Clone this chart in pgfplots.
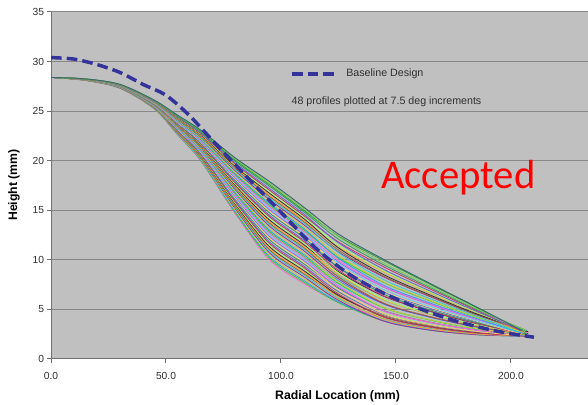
\documentclass[border=0pt]{standalone}
\usepackage{pgfplots}
\pgfplotsset{compat=1.18}
\usepackage{fontspec}
\setmainfont{Liberation Sans}
\newfontfamily\accfont{Carlito}

\definecolor{bg}{HTML}{C0C0C0}
\definecolor{axgray}{HTML}{707070}
\definecolor{gridgray}{HTML}{888888}
\definecolor{labgray}{HTML}{303030}
\definecolor{basec}{HTML}{33339A}
\definecolor{p1}{HTML}{FF66CC}
\definecolor{p2}{HTML}{33CC33}
\definecolor{p3}{HTML}{3399FF}
\definecolor{p4}{HTML}{CCCC33}
\definecolor{p5}{HTML}{993399}
\definecolor{p6}{HTML}{33CCCC}
\definecolor{p7}{HTML}{996633}
\definecolor{p8}{HTML}{FF9933}
\definecolor{p9}{HTML}{333333}
\definecolor{p10}{HTML}{99FF66}
\definecolor{p11}{HTML}{CC3366}
\definecolor{p12}{HTML}{6666CC}
\definecolor{p13}{HTML}{339966}
\definecolor{p14}{HTML}{FFCC66}
\definecolor{p15}{HTML}{9966FF}
\definecolor{p16}{HTML}{66CCFF}
\definecolor{slate}{HTML}{3D6670}
\tikzset{pr/.style={smooth, draw=#1, line width=0.6pt}}

\begin{document}
\begin{tikzpicture}
\begin{axis}[name=ax, scale only axis, width=402.75pt, height=260.25pt,
  xmin=0, xmax=233.5, ymin=0, ymax=35,
  axis background/.style={fill=bg},
  axis x line*=bottom, axis y line*=left,
  axis line style={draw=axgray, line width=0.75pt, -},
  xtick={0,50,100,150,200}, xticklabels={0.0,50.0,100.0,150.0,200.0},
  ytick={0,5,10,15,20,25,30,35}, yticklabels={0,5,10,15,20,25,30,35},
  tick align=outside, major tick length=3pt,
  tick style={draw=axgray, line width=0.75pt},
  ymajorgrids, grid style={draw=gridgray, line width=0.75pt},
  ticklabel style={font=\fontsize{7.7}{9}\selectfont, text=labgray},
  yticklabel style={anchor=east, inner sep=0pt, xshift=-2pt},
  xticklabel style={anchor=north, inner sep=0pt, yshift=-6.5pt},
  xlabel={Radial Location (mm)}, ylabel={Height (mm)},
  label style={font=\fontsize{9.2}{11}\selectfont\bfseries},
  xlabel style={at={(rel axis cs:0.5336,0)}, anchor=center, yshift=-28.3pt},
  ylabel style={at={(rel axis cs:0,0.5014)}, anchor=center, yshift=27.75pt},
  legend style={at={(axis cs:104.0,28.75)}, anchor=west, draw=none, fill=none,
    inner sep=0pt, outer sep=0pt, font=\fontsize{8}{10}\selectfont, text=labgray,
    nodes={inner sep=0pt},
    /tikz/every odd column/.append style={column sep=7.5pt}},
  legend image code/.code={\draw[#1] (0pt,0pt) -- (32pt,0pt);},
]
\addplot[forget plot, pr=p1] coordinates {(0,28.4)(15,28.1)(30,27.3)(45,25.2)(55,22.6)(65,20.0)(80,14.7)(95,10.0)(110,7.6)(125,5.74)(145,4.05)(165,3.09)(185,2.56)(207.5,2.32)};
\addplot[forget plot, pr=p2] coordinates {(0,28.4)(15,28.1)(30,27.31)(45,25.22)(55,22.64)(65,20.06)(80,14.81)(95,10.16)(110,7.75)(125,5.67)(145,3.8)(165,2.9)(185,2.45)(206,2.3)};
\addplot[forget plot, pr=p3] coordinates {(0,28.4)(15,28.11)(30,27.32)(45,25.24)(55,22.68)(65,20.12)(80,14.92)(95,10.32)(110,7.91)(125,5.77)(145,3.85)(165,2.94)(185,2.47)(204.5,2.3)};
\addplot[forget plot, pr=p4] coordinates {(0,28.4)(15,28.11)(30,27.32)(45,25.25)(55,22.72)(65,20.19)(80,15.04)(95,10.47)(110,8.06)(125,6.01)(145,4.14)(165,3.16)(185,2.6)(205.5,2.33)};
\addplot[forget plot, pr=p5] coordinates {(0,28.4)(15,28.11)(30,27.34)(45,25.28)(55,22.78)(65,20.28)(80,15.2)(95,10.71)(110,8.29)(125,5.92)(145,3.8)(165,2.9)(185,2.45)(207,2.3)};
\addplot[forget plot, pr=p6] coordinates {(0,28.4)(15,28.12)(30,27.34)(45,25.3)(55,22.82)(65,20.34)(80,15.32)(95,10.87)(110,8.45)(125,6.11)(145,4.02)(165,3.07)(185,2.55)(203.5,2.32)};
\addplot[forget plot, pr=p7] coordinates {(0,28.4)(15,28.12)(30,27.35)(45,25.32)(55,22.86)(65,20.4)(80,15.43)(95,11.03)(110,8.6)(125,6.37)(145,4.34)(165,3.31)(185,2.69)(206.5,2.35)};
\addplot[forget plot, pr=p8] coordinates {(0,28.4)(15,28.12)(30,27.36)(45,25.34)(55,22.9)(65,20.47)(80,15.54)(95,11.19)(110,8.76)(125,6.23)(145,3.97)(165,3.03)(185,2.53)(205,2.32)};
\addplot[forget plot, pr=p9] coordinates {(0,28.4)(15,28.13)(30,27.37)(45,25.35)(55,22.94)(65,20.53)(80,15.65)(95,11.34)(110,8.91)(125,6.44)(145,4.23)(165,3.23)(185,2.65)(207.5,2.34)};
\addplot[forget plot, pr=p10] coordinates {(0,28.4)(15,28.13)(30,27.38)(45,25.37)(55,22.98)(65,20.59)(80,15.76)(95,11.5)(110,9.06)(125,6.7)(145,4.56)(165,3.48)(185,2.79)(206,2.37)};
\addplot[forget plot, pr=p11] coordinates {(0,28.4)(15,28.13)(30,27.38)(45,25.39)(55,23.02)(65,20.65)(80,15.88)(95,11.66)(110,9.22)(125,6.57)(145,4.21)(165,3.21)(185,2.63)(204.5,2.34)};
\addplot[forget plot, pr=p12] coordinates {(0,28.4)(15,28.13)(30,27.39)(45,25.41)(55,23.06)(65,20.71)(80,15.99)(95,11.82)(110,9.37)(125,6.79)(145,4.48)(165,3.42)(185,2.76)(205.5,2.37)};
\addplot[forget plot, pr=p13] coordinates {(0,28.4)(15,28.14)(30,27.4)(45,25.43)(55,23.12)(65,20.81)(80,16.16)(95,12.05)(110,9.6)(125,7.12)(145,4.87)(165,3.71)(185,2.93)(207,2.4)};
\addplot[forget plot, pr=p14] coordinates {(0,28.4)(15,28.14)(30,27.41)(45,25.45)(55,23.16)(65,20.87)(80,16.27)(95,12.21)(110,9.76)(125,7.0)(145,4.53)(165,3.45)(185,2.78)(203.5,2.37)};
\addplot[forget plot, pr=p15] coordinates {(0,28.4)(15,28.15)(30,27.42)(45,25.47)(55,23.2)(65,20.93)(80,16.38)(95,12.37)(110,9.91)(125,7.22)(145,4.82)(165,3.67)(185,2.91)(206.5,2.4)};
\addplot[forget plot, pr=p16] coordinates {(0,28.4)(15,28.15)(30,27.43)(45,25.49)(55,23.24)(65,20.99)(80,16.49)(95,12.53)(110,10.06)(125,7.49)(145,5.17)(165,3.94)(185,3.07)(205,2.43)};
\addplot[forget plot, pr=p1] coordinates {(0,28.4)(15,28.15)(30,27.44)(45,25.51)(55,23.28)(65,21.05)(80,16.6)(95,12.69)(110,10.22)(125,7.38)(145,4.84)(165,3.69)(185,2.92)(207.5,2.4)};
\addplot[forget plot, pr=p2] coordinates {(0,28.4)(15,28.15)(30,27.44)(45,25.52)(55,23.32)(65,21.12)(80,16.72)(95,12.84)(110,10.37)(125,7.62)(145,5.14)(165,3.92)(185,3.05)(206,2.43)};
\addplot[forget plot, pr=p3] coordinates {(0,28.4)(15,28.16)(30,27.45)(45,25.54)(55,23.36)(65,21.18)(80,16.83)(95,13.0)(110,10.53)(125,7.89)(145,5.5)(165,4.19)(185,3.22)(204.5,2.46)};
\addplot[forget plot, pr=p4] coordinates {(0,28.4)(15,28.16)(30,27.46)(45,25.56)(55,23.4)(65,21.24)(80,16.94)(95,13.16)(110,10.68)(125,7.78)(145,5.18)(165,3.95)(185,3.07)(205.5,2.43)};
\addplot[forget plot, pr=p5] coordinates {(0,28.4)(15,28.16)(30,27.47)(45,25.59)(55,23.46)(65,21.33)(80,17.11)(95,13.4)(110,10.91)(125,8.09)(145,5.55)(165,4.23)(185,3.24)(207,2.47)};
\addplot[forget plot, pr=p6] coordinates {(0,28.4)(15,28.17)(30,27.48)(45,25.61)(55,23.5)(65,21.4)(80,17.22)(95,13.56)(110,11.07)(125,8.37)(145,5.92)(165,4.51)(185,3.41)(203.5,2.51)};
\addplot[forget plot, pr=p7] coordinates {(0,28.4)(15,28.17)(30,27.49)(45,25.62)(55,23.54)(65,21.46)(80,17.33)(95,13.71)(110,11.22)(125,8.27)(145,5.61)(165,4.27)(185,3.27)(206.5,2.48)};
\addplot[forget plot, pr=p8] coordinates {(0,28.4)(15,28.17)(30,27.5)(45,25.64)(55,23.58)(65,21.52)(80,17.44)(95,13.87)(110,11.37)(125,8.52)(145,5.93)(165,4.51)(185,3.41)(205,2.51)};
\addplot[forget plot, pr=p9] coordinates {(0,28.4)(15,28.18)(30,27.5)(45,25.66)(55,23.62)(65,21.58)(80,17.56)(95,14.03)(110,11.53)(125,8.8)(145,6.3)(165,4.8)(185,3.58)(207.5,2.54)};
\addplot[forget plot, pr=p10] coordinates {(0,28.4)(15,28.18)(30,27.51)(45,25.68)(55,23.66)(65,21.64)(80,17.67)(95,14.19)(110,11.68)(125,8.7)(145,6.01)(165,4.57)(185,3.45)(206,2.51)};
\addplot[forget plot, pr=p11] coordinates {(0,28.4)(15,28.18)(30,27.52)(45,25.7)(55,23.7)(65,21.71)(80,17.78)(95,14.35)(110,11.84)(125,8.95)(145,6.33)(165,4.82)(185,3.59)(204.5,2.54)};
\addplot[forget plot, pr=p12] coordinates {(0,28.4)(15,28.19)(30,27.53)(45,25.71)(55,23.74)(65,21.77)(80,17.89)(95,14.5)(110,11.99)(125,9.24)(145,6.71)(165,5.11)(185,3.77)(205.5,2.58)};
\addplot[forget plot, pr=p13] coordinates {(0,28.4)(15,28.19)(30,27.54)(45,25.74)(55,23.8)(65,21.86)(80,18.06)(95,14.74)(110,12.22)(125,9.23)(145,6.5)(165,4.94)(185,3.67)(207,2.56)};
\addplot[forget plot, pr=p14] coordinates {(0,28.4)(15,28.19)(30,27.55)(45,25.76)(55,23.84)(65,21.92)(80,18.17)(95,14.9)(110,12.37)(125,9.48)(145,6.83)(165,5.19)(185,3.82)(203.5,2.59)};
\addplot[forget plot, pr=p15] coordinates {(0,28.4)(15,28.2)(30,27.56)(45,25.78)(55,23.88)(65,21.98)(80,18.28)(95,15.06)(110,12.53)(125,9.77)(145,7.22)(165,5.49)(185,4.0)(206.5,2.63)};
\addplot[forget plot, pr=p16] coordinates {(0,28.4)(15,28.2)(30,27.56)(45,25.79)(55,23.92)(65,22.05)(80,18.4)(95,15.21)(110,12.68)(125,9.68)(145,6.94)(165,5.28)(185,3.87)(205,2.6)};
\addplot[forget plot, pr=p1] coordinates {(0,28.4)(15,28.2)(30,27.57)(45,25.81)(55,23.96)(65,22.11)(80,18.51)(95,15.37)(110,12.84)(125,9.94)(145,7.28)(165,5.54)(185,4.02)(207.5,2.64)};
\addplot[forget plot, pr=p2] coordinates {(0,28.4)(15,28.21)(30,27.58)(45,25.83)(55,24.0)(65,22.17)(80,18.62)(95,15.53)(110,12.99)(125,10.24)(145,7.68)(165,5.84)(185,4.2)(206,2.68)};
\addplot[forget plot, pr=p3] coordinates {(0,28.4)(15,28.21)(30,27.59)(45,25.85)(55,24.04)(65,22.23)(80,18.73)(95,15.69)(110,13.14)(125,10.15)(145,7.4)(165,5.63)(185,4.08)(204.5,2.65)};
\addplot[forget plot, pr=p4] coordinates {(0,28.4)(15,28.21)(30,27.6)(45,25.87)(55,24.08)(65,22.29)(80,18.84)(95,15.85)(110,13.3)(125,10.42)(145,7.75)(165,5.89)(185,4.23)(205.5,2.68)};
\addplot[forget plot, pr=p5] coordinates {(0,28.4)(15,28.22)(30,27.61)(45,25.89)(55,24.14)(65,22.39)(80,19.01)(95,16.08)(110,13.53)(125,10.8)(145,8.24)(165,6.27)(185,4.45)(207,2.73)};
\addplot[forget plot, pr=p6] coordinates {(0,28.4)(15,28.22)(30,27.62)(45,25.91)(55,24.18)(65,22.45)(80,19.12)(95,16.24)(110,13.68)(125,10.72)(145,7.97)(165,6.06)(185,4.33)(203.5,2.7)};
\addplot[forget plot, pr=p7] coordinates {(0,28.4)(15,28.22)(30,27.62)(45,25.93)(55,24.22)(65,22.51)(80,19.24)(95,16.4)(110,13.84)(125,10.99)(145,8.32)(165,6.33)(185,4.49)(206.5,2.74)};
\addplot[forget plot, pr=p8] coordinates {(0,28.4)(15,28.22)(30,27.63)(45,25.95)(55,24.26)(65,22.57)(80,19.35)(95,16.56)(110,13.99)(125,11.29)(145,8.74)(165,6.64)(185,4.68)(205,2.78)};
\addplot[forget plot, pr=p9] coordinates {(0,28.4)(15,28.23)(30,27.64)(45,25.97)(55,24.3)(65,22.64)(80,19.46)(95,16.72)(110,14.15)(125,11.21)(145,8.47)(165,6.44)(185,4.56)(207.5,2.75)};
\addplot[forget plot, pr=p10] coordinates {(0,28.4)(15,28.23)(30,27.65)(45,25.98)(55,24.34)(65,22.7)(80,19.57)(95,16.87)(110,14.3)(125,11.48)(145,8.83)(165,6.71)(185,4.72)(206,2.79)};
\addplot[forget plot, pr=p11] coordinates {(0,28.4)(15,28.23)(30,27.66)(45,26.0)(55,24.38)(65,22.76)(80,19.68)(95,17.03)(110,14.45)(125,11.8)(145,9.26)(165,7.04)(185,4.91)(204.5,2.83)};
\addplot[forget plot, pr=p12] coordinates {(0,28.4)(15,28.24)(30,27.66)(45,26.02)(55,24.42)(65,22.82)(80,19.8)(95,17.19)(110,14.61)(125,11.72)(145,9.0)(165,6.84)(185,4.8)(205.5,2.8)};
\addplot[forget plot, pr=p13] coordinates {(0,28.4)(15,28.24)(30,27.68)(45,26.05)(55,24.48)(65,22.91)(80,19.96)(95,17.43)(110,14.84)(125,12.08)(145,9.45)(165,7.18)(185,5.0)(207,2.85)};
\addplot[forget plot, pr=p2!80!black] coordinates {(0,28.4)(15,28.24)(30,27.68)(45,26.06)(55,24.52)(65,22.98)(80,20.08)(95,17.58)(110,14.99)(125,12.39)(145,9.88)(165,7.51)(185,5.2)(205,2.89)};
\addplot[forget plot, pr=p10!80!black] coordinates {(0,28.4)(15,28.25)(30,27.69)(45,26.08)(55,24.56)(65,23.04)(80,20.19)(95,17.74)(110,15.15)(125,12.32)(145,9.63)(165,7.32)(185,5.08)(206.5,2.86)};
\addplot[forget plot, pr=slate, line width=0.7pt] coordinates {(0,28.4)(15,28.25)(30,27.7)(45,26.1)(55,24.6)(65,23.1)(80,20.3)(95,17.9)(110,15.3)(125,12.6)(145,10.0)(165,7.6)(185,5.25)(204.5,2.9)};
\addplot[smooth, draw=basec, line width=2.6pt, dash pattern=on 8pt off 3.8pt] coordinates {(0,30.4)(10,30.25)(20,29.7)(30,28.9)(40,27.7)(50,26.6)(60,24.6)(70,22.1)(85,18.4)(100,14.8)(115,11.2)(130,8.5)(145,6.6)(160,5.1)(175,3.9)(190,3.0)(200,2.55)(210,2.2)};
\addlegendentry{Baseline Design}
\node[anchor=west, inner sep=0pt, font=\fontsize{8}{10}\selectfont, text=labgray] at (axis cs:104.5,25.95) {48 profiles plotted at 7.5 deg increments};
\node[anchor=base, inner sep=0pt, font=\accfont\fontsize{30.5}{36}\selectfont, text=red] at (axis cs:177.1,17.2) {Accepted};
\end{axis}
\pgfresetboundingbox
\path ([shift={(-38.25pt,-34.5pt)}]ax.south west) rectangle ([shift={(0pt,9pt)}]ax.north east);
\end{tikzpicture}
\end{document}
